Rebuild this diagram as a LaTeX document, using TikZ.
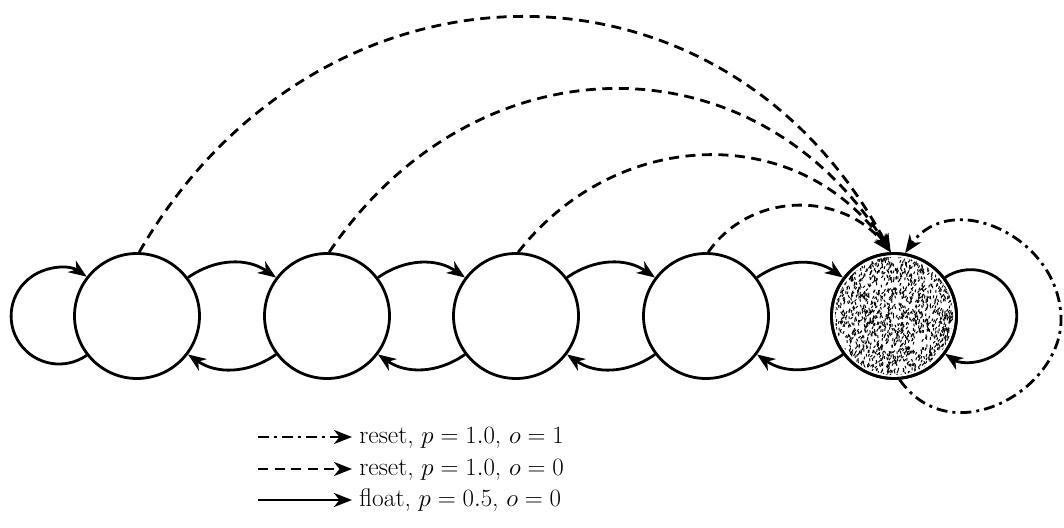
\documentclass[tikz,border=0pt]{standalone}
\usetikzlibrary{arrows.meta}
\begin{document}
\begin{tikzpicture}[x=1pt,y=1pt,
  line width=2.8pt,
  state/.style={circle,draw,fill=white,minimum size=125pt,inner sep=0pt},
  tip/.style={-{Stealth[length=18pt,width=14pt,inset=5.5pt]}},
  floatedge/.style={tip},
  resetedge/.style={tip,dash pattern=on 10pt off 6.5pt},
  endedge/.style={tip,dash pattern=on 11pt off 5pt on 3pt off 5pt},
  legendtext/.style={anchor=base west,inner sep=0pt,font=\fontsize{25.5}{30}\selectfont}]
\useasboundingbox (0,0) rectangle (1064,527);

% chain of states
\node[state] (n1) at (137,211) {};
\node[state] (n2) at (327,211) {};
\node[state] (n3) at (516,211) {};
\node[state] (n4) at (706,211) {};
\node[state] (n5) at (894,211) {};

% speckled texture of the final state
\begin{scope}
  \clip (n5.center) circle (59pt);
  \pgfmathsetseed{12}
  \foreach \k in {1,...,1700} {
    \pgfmathsetmacro\rx{rand*62}
    \pgfmathsetmacro\ry{rand*62}
    \pgfmathsetmacro\ang{80+rand*40}
    \draw[line width=1pt] (894+\rx,211+\ry) -- ++(\ang:2.8);
  }
\end{scope}
\draw (n5.center) circle (62.5pt);

% float transitions between neighbours
\foreach \a/\b in {n1/n2,n2/n3,n3/n4,n4/n5} {
  \draw[floatedge] (\a.37) to[bend left=35] (\b.143);
  \draw[floatedge] (\b.-143) to[bend left=35] (\a.-37);
}

% self loops at both ends
\draw[floatedge] (n1.218) arc[start angle=-55,end angle=-305,radius=48];
\draw[floatedge] (n5.37) arc[start angle=124,end angle=-124,radius=46];

% resets into the final state
\draw[resetedge] (n1.88) to[out=60,in=118,looseness=1.22] (n5.93);
\draw[resetedge] (n2.88) to[out=56,in=122,looseness=1.18] (n5.93);
\draw[resetedge] (n3.88) to[out=52,in=125,looseness=1.1] (n5.93);
\draw[resetedge] (n4.88) to[out=55,in=128,looseness=1.07] (n5.93);

% reset loop of the final state
\coordinate (rim) at (1061,207);
\draw[endedge] (n5.-85) .. controls +(-55:90) and +(0,-70) .. (rim)
  .. controls +(0,83) and +(55:80) .. (n5.80);

% legend
\coordinate (l1a) at (258,90);  \coordinate (l1b) at (352,90);
\coordinate (l2a) at (258,58);  \coordinate (l2b) at (352,58);
\coordinate (l3a) at (258,27);  \coordinate (l3b) at (352,27);
\draw[endedge] (l1a) -- (l1b);
\draw[resetedge] (l2a) -- (l2b);
\draw[floatedge] (l3a) -- (l3b);
\node[legendtext] (t1) at (358,84) {reset, $p=1.0$, $o=1$};
\node[legendtext] (t2) at (358,52) {reset, $p=1.0$, $o=0$};
\node[legendtext] (t3) at (358,21) {float, $p=0.5$, $o=0$};
\end{tikzpicture}
\end{document}
